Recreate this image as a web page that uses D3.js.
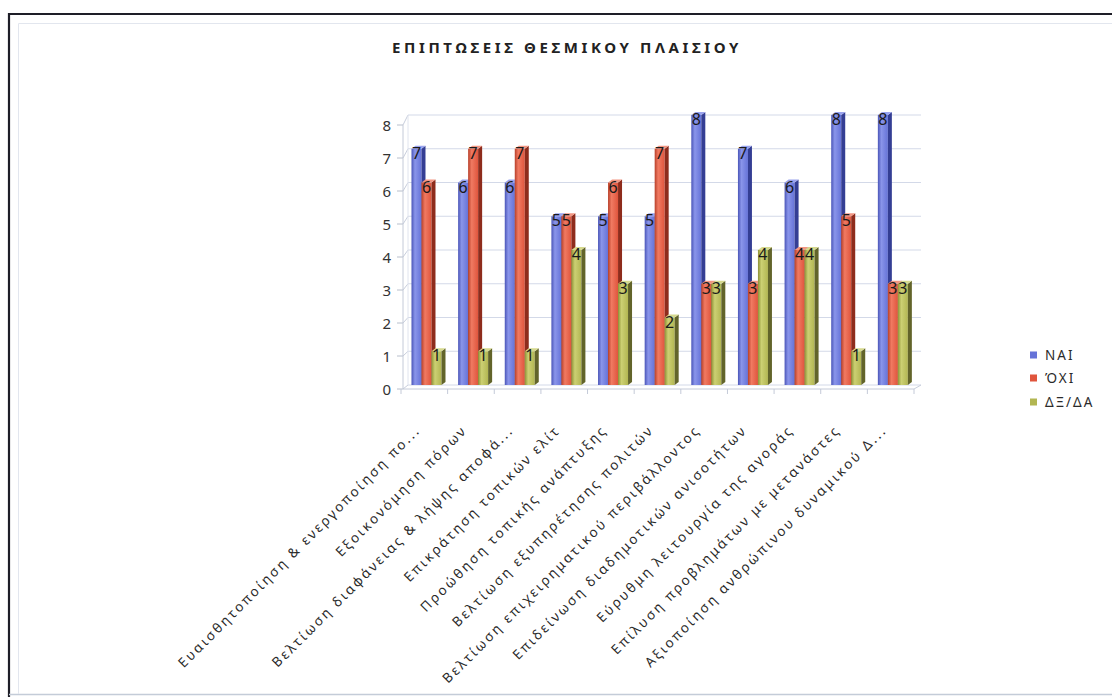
<!DOCTYPE html>
<html><head><meta charset="utf-8">
<script src="https://cdn.jsdelivr.net/npm/d3@7"></script>
<style>
html,body{margin:0;padding:0;background:#fff;}
svg{display:block;}
</style></head>
<body>
<svg id="chart" width="1112" height="697"></svg>
<script>
const categories = [
  "Ευαισθητοποίηση & ενεργοποίηση πο...",
  "Εξοικονόμηση πόρων",
  "Βελτίωση διαφάνειας & λήψης αποφά...",
  "Επικράτηση τοπικών ελίτ",
  "Προώθηση τοπικής ανάπτυξης",
  "Βελτίωση εξυπηρέτησης πολιτών",
  "Βελτίωση επιχειρηματικού περιβάλλοντος",
  "Επιδείνωση διαδημοτικών ανισοτήτων",
  "Εύρυθμη λειτουργία της αγοράς",
  "Επίλυση προβλημάτων με μετανάστες",
  "Αξιοποίηση ανθρώπινου δυναμικού Δ..."
];
const seriesNames = ["ΝΑΙ", "ΌΧΙ", "ΔΞ/ΔΑ"];
const nai  = [7, 6, 6, 5, 5, 5, 8, 7, 6, 8, 8];
const oxi  = [6, 7, 7, 5, 6, 7, 3, 3, 4, 5, 3];
const dxda = [1, 1, 1, 4, 3, 2, 3, 4, 4, 1, 3];
const yTicks = [0, 1, 2, 3, 4, 5, 6, 7, 8];
const title = "ΕΠΙΠΤΩΣΕΙΣ ΘΕΣΜΙΚΟΥ ΠΛΑΙΣΙΟΥ";

const seriesValues = [nai, oxi, dxda];
const colors = {
  front: ["#6673d8", "#e0553d", "#b2b652"],
  light: ["#8a95ea", "#f07a62", "#ccd073"],
  dark:  ["#4a55b8", "#b8402a", "#8e9236"],
  side:  ["#343e94", "#8e2c1c", "#62642a"],
  top:   ["#9aa3ee", "#f39682", "#d6d98e"]
};

const svg = d3.select("#chart");
const FONT = "'Noto Sans', 'Open Sans', 'DejaVu Sans', sans-serif";

// gradients
const defs = svg.append("defs");
seriesNames.forEach((s, j) => {
  const g = defs.append("linearGradient").attr("id", "g" + j)
    .attr("x1", "0%").attr("x2", "100%").attr("y1", "0%").attr("y2", "0%");
  g.append("stop").attr("offset", "0%").attr("stop-color", colors.dark[j]);
  g.append("stop").attr("offset", "35%").attr("stop-color", colors.light[j]);
  g.append("stop").attr("offset", "100%").attr("stop-color", colors.front[j]);
});

// frame
svg.append("path").attr("d", "M9,697 L9,14 L1112,14").attr("fill", "none")
  .attr("stroke", "#1e1e28").attr("stroke-width", 2.2);
svg.append("line").attr("x1", 9).attr("x2", 1112).attr("y1", 694.5).attr("y2", 694.5)
  .attr("stroke", "#c4ccd8").attr("stroke-width", 1.5);
svg.append("path").attr("d", "M18.5,694 L18.5,23.5 L1112,23.5").attr("fill", "none")
  .attr("stroke", "#e2e6ee").attr("stroke-width", 1);

// scales
const x0 = 401, x1 = 914;
const xBand = d3.scaleBand().domain(categories).range([x0, x1]).paddingInner(0).paddingOuter(0);
const xs = d3.scaleBand().domain(seriesNames).range([0, 30]);
const y = d3.scaleLinear().domain([0, 8]).range([385, 115]);      // back wall / bars
const yFront = d3.scaleLinear().domain([0, 8]).range([389, 125]); // front axis labels
const DX = 7;

// walls & grid
const grid = svg.append("g");
yTicks.forEach(v => {
  grid.append("line").attr("x1", x0 + DX).attr("x2", x1 + DX)
    .attr("y1", y(v)).attr("y2", y(v)).attr("stroke", "#d3d9e8").attr("stroke-width", 1);
  grid.append("line").attr("x1", x0 + 2).attr("x2", x0 + DX)
    .attr("y1", yFront(v)).attr("y2", y(v)).attr("stroke", "#c8cedc").attr("stroke-width", 1);
  grid.append("line").attr("x1", x0 - 4).attr("x2", x0 + 2)
    .attr("y1", yFront(v)).attr("y2", yFront(v)).attr("stroke", "#b8bfcc").attr("stroke-width", 1);
});
grid.append("line").attr("x1", x0 + DX).attr("x2", x0 + DX).attr("y1", y(0)).attr("y2", y(8))
  .attr("stroke", "#e0e4ee");
grid.append("line").attr("x1", x0 + 2).attr("x2", x0 + 2).attr("y1", yFront(0)).attr("y2", yFront(8))
  .attr("stroke", "#c4cad8");
// floor
grid.append("line").attr("x1", x0 + 2).attr("x2", x1).attr("y1", yFront(0)).attr("y2", yFront(0))
  .attr("stroke", "#c4cad8");
grid.append("line").attr("x1", x1).attr("x2", x1 + DX).attr("y1", yFront(0)).attr("y2", y(0))
  .attr("stroke", "#c8cedc");
categories.concat([null]).forEach((c, i) => {
  const xx = c === null ? x1 : xBand(c);
  grid.append("line").attr("x1", xx).attr("x2", xx).attr("y1", yFront(0)).attr("y2", yFront(0) + 5)
    .attr("stroke", "#c4cad8");
});

// y tick labels
svg.append("g").selectAll("text").data(yTicks).join("text")
  .attr("x", 391).attr("y", d => yFront(d)).attr("text-anchor", "end")
  .attr("dominant-baseline", "central").attr("font-family", FONT)
  .attr("font-size", 15).attr("fill", "#333").text(d => d);

// bars
const bars = svg.append("g");
const labels = svg.append("g");
const gOff = xBand.bandwidth() * 0.225;
const bw = xs.bandwidth();
const sd = 4, su = 3;
categories.forEach((c, i) => {
  seriesNames.forEach((s, j) => {
    const v = seriesValues[j][i];
    const xf = xBand(c) + gOff + xs(s);
    const yt = y(v), yb = y(0);
    bars.append("rect").attr("x", xf).attr("y", yt).attr("width", bw).attr("height", yb - yt)
      .attr("fill", `url(#g${j})`);
    bars.append("polygon")
      .attr("points", [[xf + bw, yt], [xf + bw + sd, yt - su], [xf + bw + sd, yb - su], [xf + bw, yb]].join(" "))
      .attr("fill", colors.side[j]);
    bars.append("polygon")
      .attr("points", [[xf, yt], [xf + sd, yt - su], [xf + bw + sd, yt - su], [xf + bw, yt]].join(" "))
      .attr("fill", colors.top[j]);
    labels.append("text").attr("x", xf + bw / 2).attr("y", yt + 4)
      .attr("text-anchor", "middle").attr("dominant-baseline", "central")
      .attr("font-family", FONT).attr("font-size", 16).attr("fill", "#1a1a1a").text(v);
  });
});

// category labels
svg.append("g").selectAll("text").data(categories).join("text")
  .attr("transform", d => `translate(${xBand(d) + xBand.bandwidth() / 2 - 3},431) rotate(-45)`)
  .attr("text-anchor", "end").attr("font-family", FONT).attr("font-size", 13.5)
  .attr("letter-spacing", "2.4px").attr("fill", "#2a2a2a").text(d => d);

// title
svg.append("text").attr("x", 567).attr("y", 47).attr("text-anchor", "middle")
  .attr("dominant-baseline", "central").attr("font-family", FONT).attr("font-weight", "bold")
  .attr("font-size", 15).attr("letter-spacing", "3.6px").attr("fill", "#222").text(title);

// legend
const leg = svg.append("g");
const legY = [355, 378, 402];
seriesNames.forEach((s, j) => {
  leg.append("rect").attr("x", 1030).attr("y", legY[j] - 3.5).attr("width", 7).attr("height", 7)
    .attr("fill", colors.front[j]);
  leg.append("text").attr("x", 1045).attr("y", legY[j]).attr("dominant-baseline", "central")
    .attr("font-family", FONT).attr("font-size", 13.5).attr("letter-spacing", "2px")
    .attr("fill", "#2a2a2a").text(s);
});
</script>
</body></html>
